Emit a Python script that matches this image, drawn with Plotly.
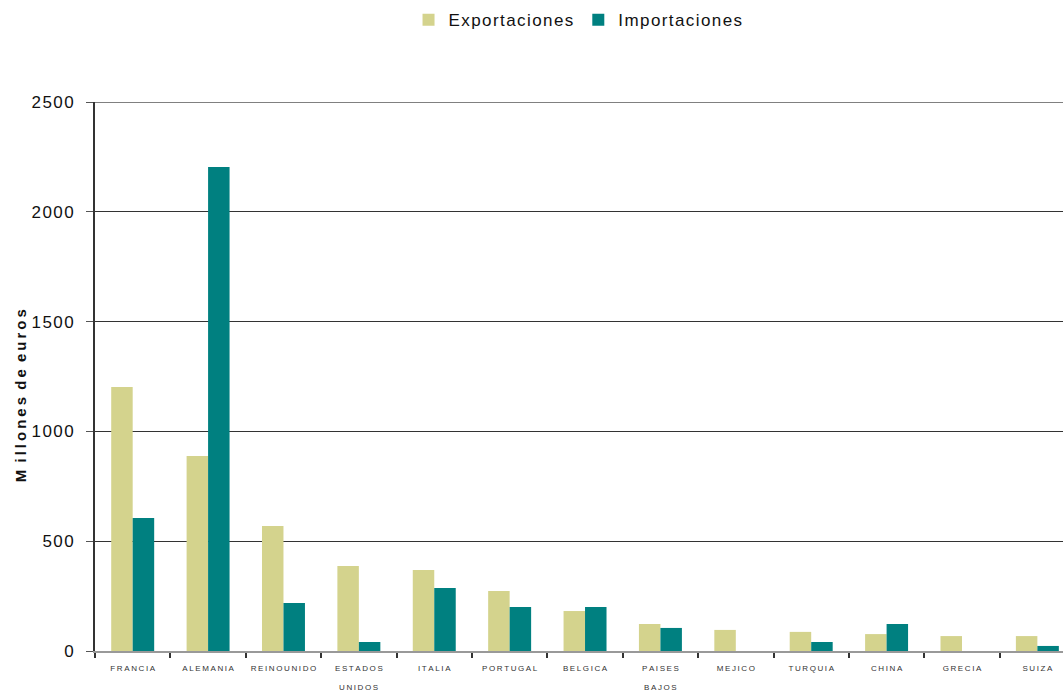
import plotly.graph_objects as go

categories = ["FRANCIA", "ALEMANIA", "REINO UNIDO", "ESTADOS UNIDOS", "ITALIA", "PORTUGAL",
              "BELGICA", "PAISES BAJOS", "MEJICO", "TURQUIA", "CHINA", "GRECIA", "SUIZA"]
label_line1 = ["FRANCIA", "ALEMANIA", "REINO UNIDO", "ESTADOS", "ITALIA", "PORTUGAL",
               "BELGICA", "PAISES", "MEJICO", "TURQUIA", "CHINA", "GRECIA", "SUIZA"]
label_line2 = ["", "", "", "UNIDOS", "", "", "", "BAJOS", "", "", "", "", ""]
exportaciones = [1202, 888, 569, 387, 369, 273, 182, 123, 96, 87, 77, 68, 68]
importaciones = [606, 2204, 219, 41, 287, 200, 200, 105, 0, 41, 123, 0, 23]
y_ticks = [0, 500, 1000, 1500, 2000, 2500]

NB = "\u00a0"
TH = "\u2009"
HS = "\u200a"


def spaced(s, gap=TH, word=TH):
    words = s.split(" ")
    return word.join(gap.join(ch for ch in w) for w in words)


FONT = "Liberation Sans, Arial, sans-serif"

fig = go.Figure()
fig.add_trace(go.Bar(x=categories, y=exportaciones, name=spaced("Exportaciones", gap=HS),
                     marker=dict(color="#D4D38D", line=dict(width=0))))
fig.add_trace(go.Bar(x=categories, y=importaciones, name=spaced("Importaciones", gap=HS),
                     marker=dict(color="#008080", line=dict(width=0))))

for cat, l2 in zip(categories, label_line2):
    if l2:
        fig.add_annotation(x=cat, xref="x", y=0, yref="paper", yanchor="middle",
                           yshift=-36, text=spaced(l2), showarrow=False,
                           font=dict(size=8, family=FONT, color="#333333"))

fig.add_annotation(x=-0.0775, xref="paper", xanchor="center", y=0.466, yref="paper",
                   yanchor="middle", textangle=-90, showarrow=False,
                   text="<b>" + spaced("M illones de euros", word=NB + TH) + "</b>",
                   font=dict(size=15, family=FONT, color="#111111"))

# top border of the plot area at the highest tick
fig.add_shape(type="line", xref="paper", x0=0, x1=1, yref="y", y0=y_ticks[-1], y1=y_ticks[-1],
              line=dict(color="#808080", width=2), layer="above")

fig.update_layout(
    width=1063, height=693,
    margin=dict(l=95, r=0, t=102, b=42, autoexpand=False),
    paper_bgcolor="white", plot_bgcolor="white",
    barmode="group", bargap=0.43, bargroupgap=0,
    font=dict(family=FONT, color="#111111"),
    showlegend=True,
    legend=dict(orientation="h", x=0.499, xanchor="center", y=0.971, yanchor="middle",
                yref="container", font=dict(size=17, family=FONT, color="#111111"),
                traceorder="normal", itemsizing="constant"),
    xaxis=dict(type="category", range=[-0.5, 12.34], tickson="boundaries",
               tickvals=categories, ticktext=[spaced(t) for t in label_line1],
               ticks="outside", ticklen=5, tickcolor="#333333", tickwidth=1.5, automargin=False,
               ticklabelstandoff=8,
               showline=True, linecolor="#999999", linewidth=2,
               tickfont=dict(size=8, family=FONT, color="#333333"), tickangle=0, showgrid=False),
    yaxis=dict(range=[0, 2500], tickvals=y_ticks, ticktext=[spaced(str(v), gap=HS) for v in y_ticks],
               ticks="outside", ticklen=7, tickcolor="#555555", automargin=False,
               ticklabelstandoff=9,
               showline=True, linecolor="#333333", linewidth=2,
               showgrid=True, gridcolor="#333333", gridwidth=1,
               tickfont=dict(size=17, family=FONT, color="#111111"), zeroline=False),
)

fig.write_html("out.html", config={"displayModeBar": False},
               post_script="document.body.style.margin='0px';")
